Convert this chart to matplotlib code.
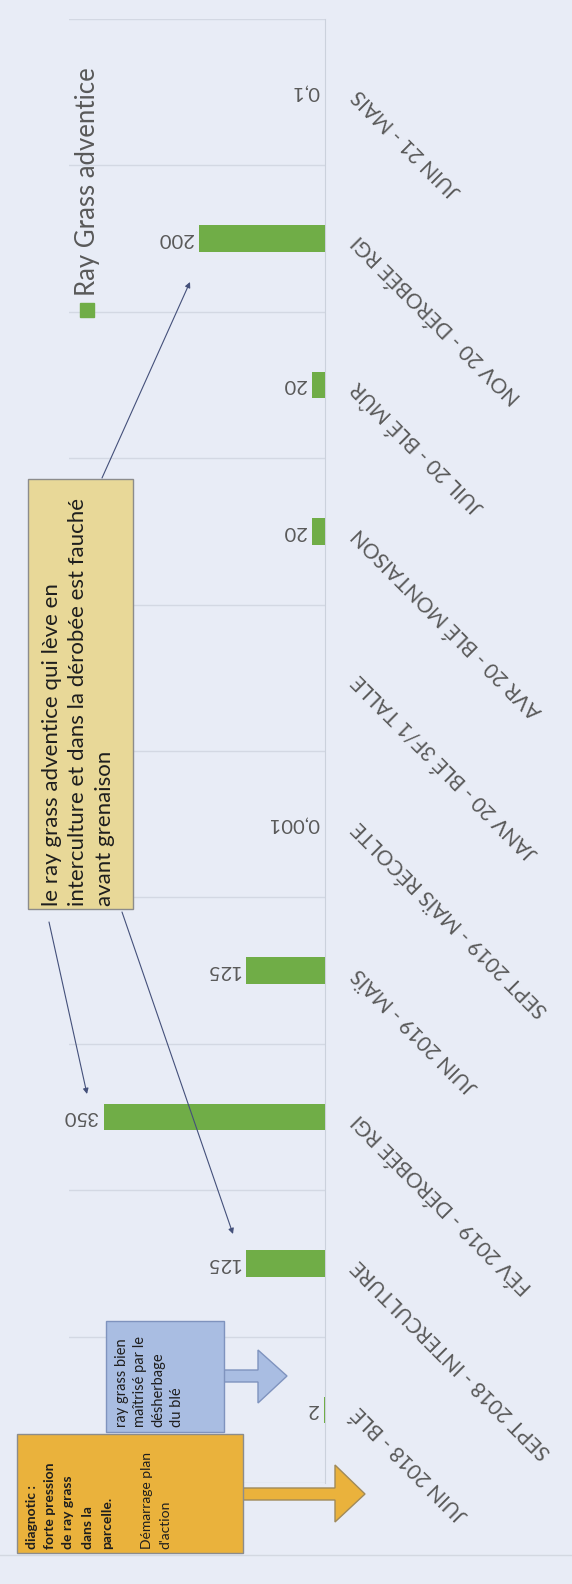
import matplotlib.pyplot as plt
from matplotlib.patches import Rectangle, Polygon
import numpy as np

plt.rcParams['font.family'] = ['Lato', 'DejaVu Sans']

# chart data (top to bottom, as displayed)
categories = ["JUIN 21 - MAIS", "NOV 20 - DÉROBÉE RGI", "JUIL 20 - BLÉ MÛR",
              "AVR 20 - BLÉ MONTAISON", "JANV 20 - BLÉ 3F/1 TALLE",
              "SEPT 2019 - MAÏS RÉCOLTE", "JUIN 2019 - MAÏS",
              "FÉV 2019 - DÉROBÉE RGI", "SEPT 2018 - INTERCULTURE",
              "JUIN 2018 - BLÉ"]
values = [0.1, 200, 20, 20, None, 0.001, 125, 350, 125, 2]
value_labels = ["0,1", "200", "20", "20", "", "0,001", "125", "350", "125", "2"]
series_name = "Ray Grass adventice"

note_main = ["le ray grass adventice qui lève en",
             "interculture et dans la dérobée est fauché",
             "avant grenaison"]
note_diag = ["diagnotic :", "forte pression", "de ray grass", "dans la",
             "parcelle.", "", "Démarrage plan", "d'action"]
note_blue = ["ray grass bien", "maîtrisé par le", "désherbage", "du blé"]

BG = '#E8ECF6'
GREEN = '#70AD47'
GRAY = '#595959'
GRID = '#D3D8E3'
INK = '#1E1E1E'
ARROW = '#44507A'

W, H = 572, 1584
fig = plt.figure(figsize=(W / 100, H / 100), dpi=100)
fig.patch.set_facecolor(BG)

ax = fig.add_axes([69 / W, 1 - 1483 / H, (325 - 69) / W, (1483 - 19) / H])
ax.set_facecolor('none')
pos = np.arange(len(categories))
vals = np.array([np.nan if v is None else v for v in values])
ax.barh(pos, vals, height=0.18, color=GREEN, zorder=3)
ax.set_xlim(405, 0)
ax.set_ylim(len(categories) - 0.5, -0.5)

for p, v, lab in zip(pos, vals, value_labels):
    if np.isnan(v):
        continue
    ax.annotate(lab, (v, p), xytext=(-6, 0), textcoords='offset pixels',
                rotation=180, ha='right', va='center', fontsize=14.5,
                color=GRAY)

ax.yaxis.tick_right()
ax.set_yticks(pos)
ax.set_yticklabels(categories, rotation=135, ha='right', va='center',
                   rotation_mode='anchor', fontsize=15, color=GRAY)
ax.tick_params(axis='y', length=0, pad=22)
ax.set_yticks(np.arange(-0.5, len(categories), 1), minor=True)
ax.tick_params(axis='y', which='minor', length=0)
ax.grid(which='minor', axis='y', color=GRID, lw=1)
ax.set_xticks([])
for s in ['top', 'left', 'bottom']:
    ax.spines[s].set_visible(False)
ax.spines['right'].set_color('#CBD1DC')

# overlay in pixel coordinates for the legend and the notes
ov = fig.add_axes([0, 0, 1, 1], zorder=5)
ov.set_xlim(0, W)
ov.set_ylim(H, 0)
ov.axis('off')

ov.plot([0, W], [1555, 1555], color='#D3D8E1', lw=1)

# legend
ov.add_patch(Rectangle((80, 303), 14, 14, color=GREEN))
ov.text(87, 296, series_name, rotation=90, ha='center', va='bottom',
        fontsize=18.5, color=GRAY)

# yellow note with its arrows
ov.add_patch(Rectangle((28, 479), 105, 430, fc='#E8D898', ec='#8C8C8C', lw=1))
for x, line in zip([52, 78, 105], note_main):
    ov.text(x, 906, line, rotation=90, ha='center', va='bottom',
            fontsize=16, color=INK)

arr = dict(arrowstyle='-|>', color=ARROW, lw=0.8, mutation_scale=8,
           shrinkA=0, shrinkB=0)
ov.annotate('', xy=(190, 282), xytext=(102, 478), arrowprops=arr)
ov.annotate('', xy=(87, 1094), xytext=(49, 922), arrowprops=arr)
ov.annotate('', xy=(233, 1234), xytext=(122, 912), arrowprops=arr)

# blue note + block arrow
ov.add_patch(Polygon([(224, 1370), (258, 1370), (258, 1350), (287, 1376),
                      (258, 1403), (258, 1382), (224, 1382)],
                     fc='#A9BDE2', ec='#7F93BE', lw=1))
ov.add_patch(Rectangle((106, 1321), 118, 111, fc='#A9BDE2', ec='#7F93BE', lw=1))
for x, line in zip([122, 140, 158, 177], note_blue):
    ov.text(x, 1427, line, rotation=90, ha='center', va='bottom',
            fontsize=10.5, color=INK)

# orange note + block arrow
ov.add_patch(Polygon([(243, 1488), (335, 1488), (335, 1465), (365, 1494),
                      (335, 1522), (335, 1500), (243, 1500)],
                     fc='#EAB23C', ec='#A08A5A', lw=1))
ov.add_patch(Rectangle((17, 1434), 226, 119, fc='#EAB23C', ec='#8C8C8C', lw=1))
xs = [32, 50, 68, 88, 107, 127, 147, 165]
for i, (x, line) in enumerate(zip(xs, note_diag)):
    if not line:
        continue
    ov.text(x, 1549, line, rotation=90, ha='center', va='bottom',
            fontsize=10, color=INK, fontweight='bold' if i < 5 else 'normal')

fig.savefig('out.png', dpi=100, facecolor=BG)
